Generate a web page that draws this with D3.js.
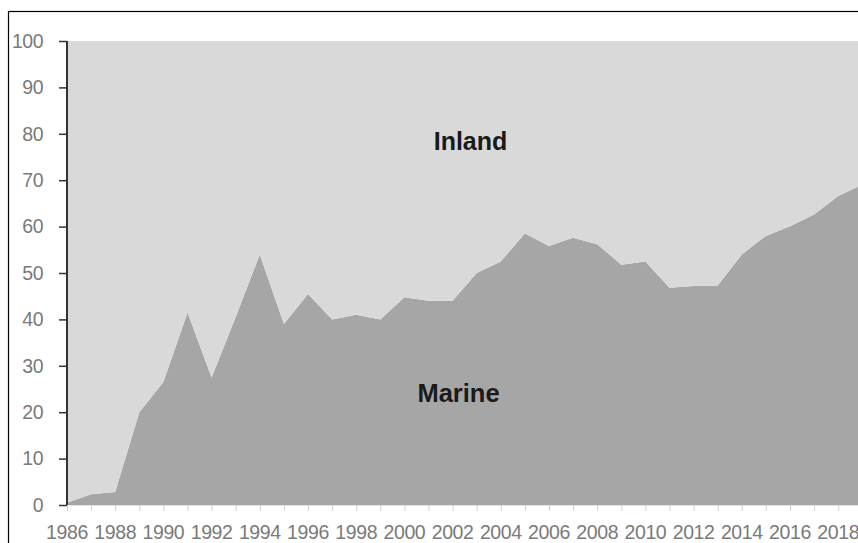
<!DOCTYPE html>
<html><head><meta charset="utf-8">
<script src="https://cdn.jsdelivr.net/npm/d3@7"></script>
<style>html,body{margin:0;padding:0;background:#fff;overflow:hidden}</style>
</head><body>
<svg id="c" width="858" height="543"></svg>
<script>
const years = [1986,1987,1988,1989,1990,1991,1992,1993,1994,1995,1996,1997,1998,1999,2000,2001,2002,2003,2004,2005,2006,2007,2008,2009,2010,2011,2012,2013,2014,2015,2016,2017,2018,2019];
const marine = [0.5,2.3,2.8,20,26.5,41.5,27.5,40.5,54,39,45.5,40,41,40,44.8,44,44,50,52.5,58.5,55.8,57.6,56.2,51.8,52.5,46.8,47.2,47.3,54,58,60.1,62.6,66.6,69];
const inland = [99.5,97.7,97.2,80,73.5,58.5,72.5,59.5,46,61,54.5,60,59,60,55.2,56,56,50,47.5,41.5,44.2,42.4,43.8,48.2,47.5,53.2,52.8,52.7,46,42,39.9,37.4,33.4,31];
const yTicks = [0,10,20,30,40,50,60,70,80,90,100];
const xLabels = [1986,1988,1990,1992,1994,1996,1998,2000,2002,2004,2006,2008,2010,2012,2014,2016,2018];
const seriesNames = ["Marine","Inland"];
const colors = {Marine:"#a6a6a6", Inland:"#d9d9d9"};

const svg = d3.select("#c");
const x = d3.scalePoint().domain(years).range([67, 67 + 33*24.1]);
const y = d3.scaleLinear().domain([0,100]).range([505, 41]);

// frame
svg.append("rect").attr("x",8.5).attr("y",11.5).attr("width",900).attr("height",600)
  .attr("fill","none").attr("stroke","#000").attr("stroke-width",1.2);

const table = years.map((yr,i)=>({year:yr, Marine:marine[i], Inland:inland[i]}));
const stack = d3.stack().keys(seriesNames)(table);
const area = d3.area().x(d=>x(d.data.year)).y0(d=>y(d[0])).y1(d=>y(d[1]));

svg.append("g").selectAll("path").data(stack).join("path")
  .attr("d", area).attr("fill", d=>colors[d.key]);

// x axis minor ticks
const xAxis = d3.axisBottom(x).tickValues(years).tickSize(6).tickFormat("");
const gx = svg.append("g").attr("transform","translate(0,505)").call(xAxis);
gx.select(".domain").attr("stroke","#e0e0e0");
gx.selectAll(".tick line").attr("stroke","#d0d0d0");

svg.append("g").selectAll("text").data(xLabels).join("text")
  .attr("x", d=>x(d)).attr("y", 539).attr("text-anchor","middle")
  .attr("font-family","Liberation Sans, Arial, sans-serif").attr("font-size",19.5)
  .attr("letter-spacing",-0.4)
  .attr("fill","#7a7a7a").text(d=>d);

// y axis
const yAxis = d3.axisLeft(y).tickValues(yTicks).tickSize(8).tickPadding(16);
const gy = svg.append("g").attr("transform","translate(67,0)").call(yAxis);
gy.select(".domain").attr("stroke","#333").attr("stroke-width",2).attr("d","M0,"+y(100)+"V"+y(0));
gy.selectAll(".tick line").attr("stroke","#333").attr("stroke-width",1.5);
gy.selectAll(".tick text").attr("font-family","Liberation Sans, Arial, sans-serif")
  .attr("font-size",19.5).attr("fill","#7a7a7a").attr("letter-spacing",-0.5);

// labels
svg.append("text").attr("x",470.5).attr("y",150).attr("text-anchor","middle")
  .attr("font-family","Liberation Sans, Arial, sans-serif").attr("font-weight","bold")
  .attr("font-size",25).attr("fill","#1a1a1a").text("Inland");
svg.append("text").attr("x",458.5).attr("y",402).attr("text-anchor","middle")
  .attr("font-family","Liberation Sans, Arial, sans-serif").attr("font-weight","bold")
  .attr("font-size",25.5).attr("fill","#1a1a1a").text("Marine");
</script>
</body></html>
